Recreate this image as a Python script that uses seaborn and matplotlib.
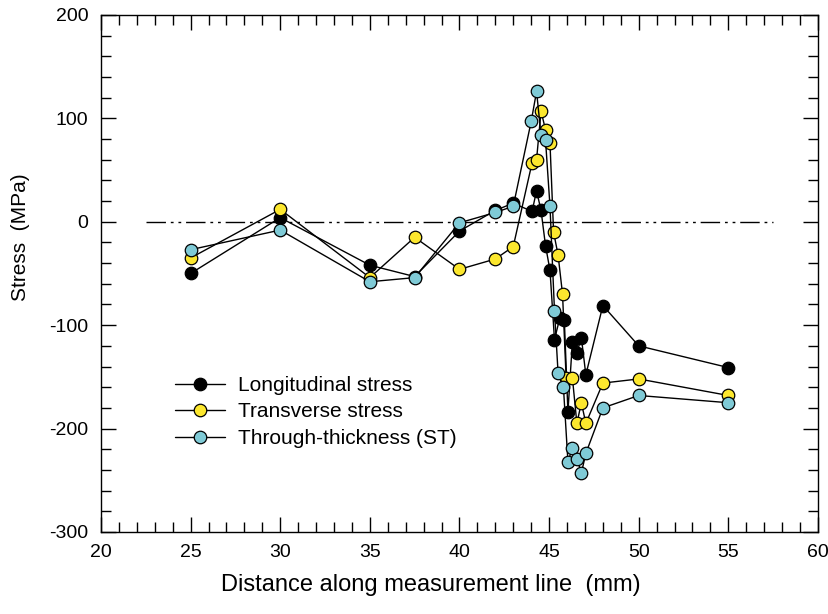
import matplotlib
matplotlib.use("Agg")
import matplotlib.pyplot as plt
from matplotlib.ticker import MultipleLocator
import pandas as pd
import seaborn as sns

# Data
long_x = [25, 30, 35, 37.5, 40, 42, 43, 44.05, 44.3, 44.55, 44.8, 45.05, 45.3, 45.6,
          45.85, 46.05, 46.3, 46.55, 46.8, 47.05, 48, 50, 55]
long_y = [-50, 4, -42, -53, -9, 11, 18, 10, 30, 11, -23, -47, -114, -93,
          -95, -184, -116, -127, -112, -148, -81, -120, -141]

trans_x = [25, 30, 35, 37.5, 40, 42, 43, 44.05, 44.3, 44.55, 44.8, 45.05, 45.25, 45.5,
           45.75, 45.95, 46.3, 46.55, 46.8, 47.05, 48, 50, 55]
trans_y = [-35, 12, -54, -15, -46, -36, -24, 57, 60, 107, 89, 76, -10, -32,
           -70, -151, -151, -195, -175, -195, -156, -152, -168]

st_x = [25, 30, 35, 37.5, 40, 42, 43, 44.0, 44.3, 44.55, 44.8, 45.05, 45.3, 45.5,
        45.8, 46.05, 46.3, 46.55, 46.8, 47.05, 48, 50, 55]
st_y = [-27, -8, -58, -54, -1, 9, 15, 97, 126, 84, 79, 15, -86, -146,
        -160, -232, -219, -229, -243, -224, -180, -168, -175]

series_names = ["Longitudinal stress", "Transverse stress", "Through-thickness (ST)"]
face_colors = ["#000000", "#FCE72E", "#7FCAD6"]

zero_line_start = 22.5
zero_line_end = 57.5

sns.set_style("ticks")
plt.rcParams["font.family"] = ["Liberation Sans", "DejaVu Sans"]
plt.rcParams["axes.unicode_minus"] = False
plt.rcParams["text.color"] = "black"
plt.rcParams["axes.labelcolor"] = "black"

fig = plt.figure(figsize=(8.29, 6.14), dpi=100)
ax = fig.add_axes([0.1218, 0.1336, 0.8649, 0.842])

# zero reference line (dash-dot-dot)
ax.hlines(0, zero_line_start, zero_line_end, colors="black", linewidth=1.0,
          linestyles=[(0, (14, 3.5, 2, 3.5, 2, 3.5))])

frames = [
    pd.DataFrame({"x": long_x, "y": long_y}),
    pd.DataFrame({"x": trans_x, "y": trans_y}),
    pd.DataFrame({"x": st_x, "y": st_y}),
]
for df, name, fc in zip(frames, series_names, face_colors):
    sns.lineplot(data=df, x="x", y="y", ax=ax, sort=False, color="black",
                 linewidth=1.0, marker="o", markersize=9, markerfacecolor=fc,
                 markeredgecolor="black", markeredgewidth=0.9, label=name)

ax.set_xlim(20, 60)
ax.set_ylim(-300, 200)
ax.xaxis.set_major_locator(MultipleLocator(5))
ax.xaxis.set_minor_locator(MultipleLocator(1))
ax.yaxis.set_major_locator(MultipleLocator(100))
ax.yaxis.set_minor_locator(MultipleLocator(20))
ax.tick_params(which="both", direction="in", top=True, right=True,
               colors="black", labelcolor="black", labelsize=14, width=1.0)
ax.tick_params(which="major", length=11, pad=9)
ax.tick_params(which="minor", length=7)
for sp in ax.spines.values():
    sp.set_linewidth(1.0)
    sp.set_color("black")

ax.set_xlabel("Distance along measurement line  (mm)", fontsize=17)
ax.set_ylabel("Stress  (MPa)", fontsize=15)
ax.xaxis.set_label_coords(0.46, -0.082)
ax.yaxis.set_label_coords(-0.099, 0.57)

ax.legend(loc="upper left", bbox_to_anchor=(0.092, 0.318), frameon=False,
          fontsize=15, handlelength=2.4, handletextpad=0.6, labelspacing=0.36,
          borderaxespad=0)

fig.savefig("out.png", dpi=100)
plt.close(fig)
